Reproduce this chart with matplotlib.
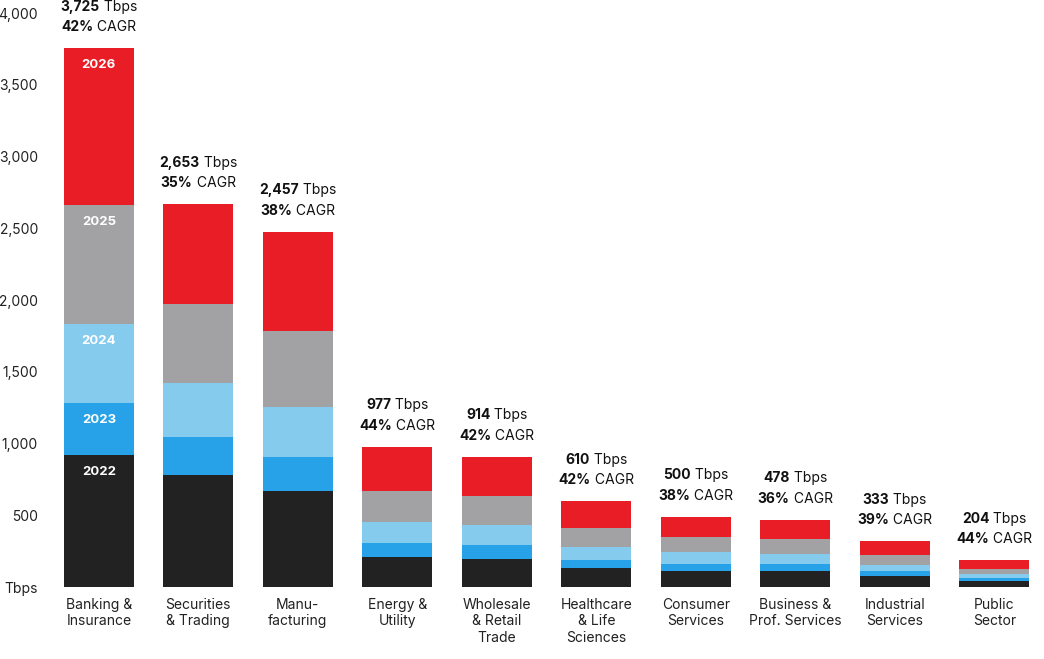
import matplotlib
matplotlib.use("Agg")
import matplotlib.pyplot as plt
import matplotlib.transforms as mt
import numpy as np

categories = ["Banking &\nInsurance", "Securities\n& Trading", "Manu-\nfacturing", "Energy &\nUtility",
              "Wholesale\n& Retail\nTrade", "Healthcare\n& Life\nSciences", "Consumer\nServices",
              "Business &\nProf. Services", "Industrial\nServices", "Public\nSector"]
years = ["2022", "2023", "2024", "2025", "2026"]
v2022 = [920, 780, 669, 209, 195, 132, 111, 111, 77, 42]
v2023 = [362, 265, 237, 98, 98, 56, 49, 49, 34, 21]
v2024 = [551, 377, 348, 146, 139, 91, 84, 70, 42, 28]
v2025 = [829, 550, 530, 216, 202, 132, 104, 104, 70, 34]
v2026 = [1094, 697, 690, 307, 272, 188, 140, 133, 97, 63]
totals = ["3,725", "2,653", "2,457", "977", "914", "610", "500", "478", "333", "204"]
cagr = ["42%", "35%", "38%", "44%", "42%", "42%", "38%", "36%", "39%", "44%"]
yticks = [0, 500, 1000, 1500, 2000, 2500, 3000, 3500, 4000]
ytick_labels = ["Tbps", "500", "1,000", "1,500", "2,000", "2,500", "3,000", "3,500", "4,000"]
colors = ["#222222", "#27a2e8", "#85cbee", "#a2a2a4", "#e81d25"]

plt.rcParams["font.family"] = "Inter"
fig = plt.figure(figsize=(10.44, 6.59), dpi=100)
ax = fig.add_axes([0.047, 0.109, 0.953, 0.871])
x = np.arange(len(categories))
series = [v2022, v2023, v2024, v2025, v2026]
bottom = np.zeros(len(categories))
for s, c, yr in zip(series, colors, years):
    s = np.array(s)
    ax.bar(x, s, 0.7, bottom=bottom, color=c)
    top = bottom[0] + s[0]
    ax.annotate(yr, (x[0], top), xytext=(0, -8), textcoords="offset points",
                ha="center", va="top", color="white", fontsize=9.5, fontweight="bold")
    bottom += s

ax.set_xlim(-0.5, len(categories) - 0.5)
ax.set_ylim(0, 4000)
ax.set_yticks(yticks)
ax.set_yticklabels(ytick_labels, fontsize=10, color="#222222")
ax.set_xticks(x)
ax.set_xticklabels(categories, fontsize=10, color="#222222", linespacing=1.2)
ax.tick_params(length=0, pad=8)
for sp in ax.spines.values():
    sp.set_visible(False)

fig.canvas.draw()
r = fig.canvas.get_renderer()
for i in range(len(categories)):
    for line, (b, n) in enumerate([(totals[i], " Tbps"), (cagr[i], " CAGR")]):
        dy = 30 if line == 0 else 15
        t1 = ax.annotate(b, (x[i], bottom[i]), xytext=(0, dy), textcoords="offset points",
                         ha="left", va="center", fontsize=10, fontweight="bold", color="#111111")
        t2 = ax.annotate(n, (x[i], bottom[i]), xytext=(0, dy), textcoords="offset points",
                         ha="left", va="center", fontsize=10, color="#111111")
        w1 = t1.get_window_extent(r).width
        w2 = t2.get_window_extent(r).width
        tot = w1 + w2
        k = 72 / fig.dpi
        t1.set_position((-tot / 2 * k, dy))
        t2.set_position((( -tot / 2 + w1) * k, dy))

fig.savefig("out.png", dpi=100)
